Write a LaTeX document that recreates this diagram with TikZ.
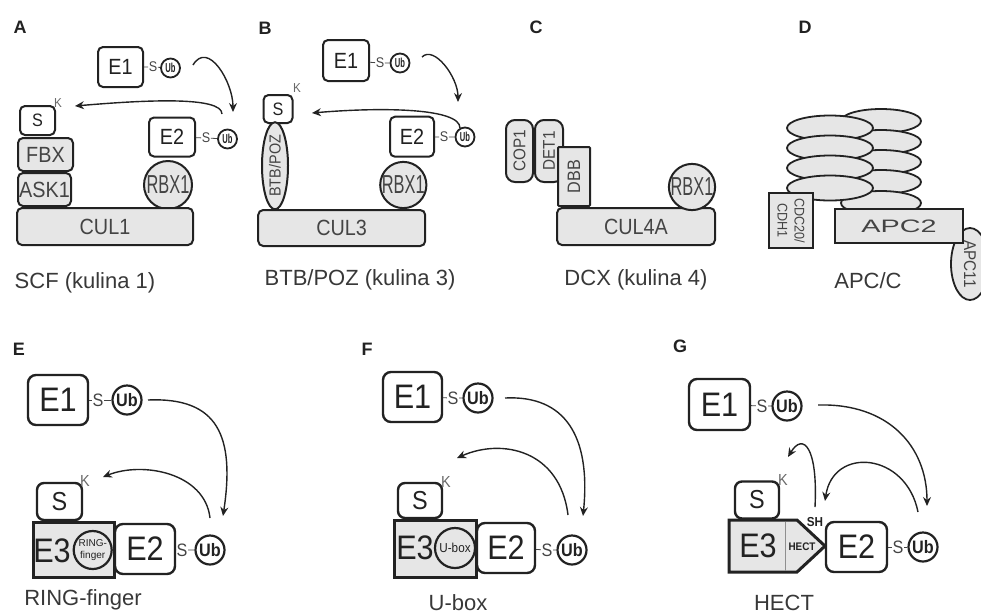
\documentclass[tikz,border=0pt]{standalone}
\usepackage{fontspec}
\setmainfont{Liberation Sans}
\setsansfont{Liberation Sans}
\newfontfamily\narrowsf[FakeStretch=0.9]{Liberation Sans}
\usetikzlibrary{arrows.meta,positioning,shapes.geometric}

\definecolor{ink}{HTML}{222222}
\definecolor{protgray}{HTML}{E6E6E6}
\definecolor{labgray}{HTML}{444444}
\newcommand{\fsz}[2]{\fontsize{#1}{#2}\selectfont}

\begin{document}
\begin{tikzpicture}[x=1pt,y=1pt,
  box/.style={draw=ink, line width=2pt, rounded corners=5pt, fill=white,
    inner sep=0pt, text=ink, font=\narrowsf\fsz{22}{24}},
  gbox/.style={box, fill=protgray, text=labgray, font=\narrowsf\fsz{22}{24}},
  bigbox/.style={box, line width=2.4pt, rounded corners=8pt, font=\narrowsf\fsz{34}{38}},
  sbig/.style={box, line width=2.4pt, rounded corners=7pt, font=\narrowsf\fsz{26}{26}},
  e3box/.style={draw=ink, line width=3pt, fill=protgray, inner sep=0pt},
  e3txt/.style={text=ink, inner sep=0pt, font=\narrowsf\fsz{34}{34}},
  dom/.style={circle, draw=ink, line width=2.2pt, fill=protgray, inner sep=0pt,
    text=ink, align=center},
  ubsm/.style={circle, draw=ink, line width=1.8pt, fill=white, minimum size=19pt,
    inner sep=0pt, text=ink, font=\narrowsf\bfseries\fsz{13}{13}},
  ubbig/.style={ubsm, line width=2.2pt, minimum size=29pt,
    font=\narrowsf\bfseries\fsz{18}{18}},
  stxt/.style={inner sep=0.5pt, text=labgray, font=\narrowsf\fsz{14}{14}},
  stxtbig/.style={stxt, font=\narrowsf\fsz{18}{18}},
  ktxt/.style={inner sep=0pt, text=labgray!80, font=\narrowsf\fsz{13}{13}},
  kbig/.style={ktxt, font=\narrowsf\fsz{16}{16}},
  lettr/.style={inner sep=0pt, text=ink, font=\bfseries\fsz{18}{18}},
  captn/.style={inner sep=0pt, text=ink!90, font=\fsz{22}{22}},
  link/.style={draw=labgray, line width=0.8pt},
  arr/.style={-{Stealth[length=9pt,width=8pt,inset=3pt]}, line width=1.4pt, draw=ink},
  apcell/.style={ellipse, draw=ink, line width=1.8pt, fill=protgray, inner sep=0pt}
]
\useasboundingbox (0,0) rectangle (981,-614);

% A: SCF
\node[lettr] (labA) at (20,-27) {A};
\node[box, minimum width=45pt, minimum height=40pt] (e1A) at (120.5,-67) {E1};
\node[stxt] (sA1) at (153,-67) {S};
\node[ubsm] (ubA1) at (170.5,-68) {\scalebox{0.65}[1]{Ub}};
\node[box, minimum width=46pt, minimum height=39pt] (e2A) at (172,-137) {E2};
\node[stxt] (sA2) at (206,-138) {S};
\node[ubsm] (ubA2) at (227.5,-139) {\scalebox{0.65}[1]{Ub}};
\node[gbox, circle, minimum size=48pt, font=\narrowsf\fsz{26}{26}] (rbxA) at (168,-185) {\scalebox{0.7}[1]{RBX1}};
\node[box, minimum width=35pt, minimum height=29pt, font=\narrowsf\fsz{18}{18}] (subA) at (37.5,-120.5) {S};
\node[ktxt] (kA) at (58,-103) {K};
\node[gbox, minimum width=55pt, minimum height=33pt] (fbx) at (45.5,-154.5) {FBX};
\node[gbox, minimum width=53pt, minimum height=33pt] (ask) at (44.5,-189.5) {ASK1};
\node[gbox, minimum width=176pt, minimum height=37pt] (cul1) at (105,-226.5) {CUL1};
\node[captn] (capA) at (85,-283) {SCF (kulina 1)};
\draw[link] (e1A) -- (sA1) -- (ubA1);
\draw[link] (e2A) -- (sA2) -- (ubA2);
\coordinate (arA1s) at (193,-65);
\coordinate (arA1e) at (233,-112);
\coordinate (arA2s) at (222,-114);
\coordinate (arA2e) at (75,-106);
\draw[arr] (arA1s) .. controls (208,-40) and (233,-82) .. (arA1e);
\draw[arr] (arA2s) .. controls (222,-96) and (145,-100) .. (arA2e);

% B: BTB/POZ
\node[lettr] (labB) at (265,-28) {B};
\node[box, minimum width=46pt, minimum height=41pt] (e1B) at (346,-60.5) {E1};
\node[stxt] (sB1) at (380,-63) {S};
\node[ubsm] (ubB1) at (400,-63) {\scalebox{0.65}[1]{Ub}};
\node[box, minimum width=44pt, minimum height=40pt] (e2B) at (412,-136.7) {E2};
\node[stxt] (sB2) at (444,-137) {S};
\node[ubsm] (ubB2) at (465,-137) {\scalebox{0.65}[1]{Ub}};
\node[gbox, circle, minimum size=46pt, font=\narrowsf\fsz{26}{26}] (rbxB) at (403.3,-185) {\scalebox{0.7}[1]{RBX1}};
\node[box, minimum width=29pt, minimum height=28pt, font=\narrowsf\fsz{18}{18}] (subB) at (278,-109) {S};
\node[ktxt] (kB) at (297,-88) {K};
\node[gbox, ellipse, rotate=90, minimum width=85pt, minimum height=26pt, font=\narrowsf\fsz{16}{16}] (btb) at (275,-165.8) {BTB/POZ};
\node[gbox, minimum width=167pt, minimum height=36pt] (cul3) at (341.7,-228) {CUL3};
\node[captn] (capB) at (360,-280) {BTB/POZ (kulina 3)};
\draw[link] (e1B) -- (sB1) -- (ubB1);
\draw[link] (e2B) -- (sB2) -- (ubB2);
\coordinate (arB1s) at (422,-57);
\coordinate (arB1e) at (458,-102);
\coordinate (arB2s) at (460,-128);
\coordinate (arB2e) at (312,-113);
\draw[arr] (arB1s) .. controls (434,-45) and (458,-77) .. (arB1e);
\draw[arr] (arB2s) .. controls (460,-108) and (382,-107) .. (arB2e);

% C: DCX
\node[lettr] (labC) at (536,-27) {C};
\node[gbox, rotate=90, minimum width=62pt, minimum height=27pt, rounded corners=9pt, font=\narrowsf\fsz{17}{17}] (cop) at (519.5,-151) {COP1};
\node[gbox, rotate=90, minimum width=62pt, minimum height=28pt, rounded corners=9pt, font=\narrowsf\fsz{17}{17}] (det) at (549,-151) {DET1};
\node[gbox, rotate=90, minimum width=59pt, minimum height=32pt, rounded corners=1pt, font=\narrowsf\fsz{18}{18}] (dbb) at (574,-176.5) {DBB};
\node[gbox, minimum width=158pt, minimum height=37pt] (cul4) at (636,-226.5) {CUL4A};
\node[gbox, circle, minimum size=46pt, font=\narrowsf\fsz{26}{26}] (rbxC) at (692,-187) {\scalebox{0.7}[1]{RBX1}};
\node[captn] (capC) at (636,-280) {DCX (kulina 4)};

% D: APC/C
\node[lettr] (labD) at (805,-27) {D};
\foreach \yy [count=\i] in {121,142,162,182,203}
  \node[apcell, minimum width=80pt, minimum height=24pt] (apcR\i) at (881,-\yy) {};
\foreach \yy [count=\i] in {128,148,168,188}
  \node[apcell, minimum width=86pt, minimum height=25pt] (apcL\i) at (830,-\yy) {};
\node[apcell, rotate=-90, minimum width=72pt, minimum height=38pt, text=labgray, font=\narrowsf\fsz{17}{17}] (apc11) at (970,-264) {APC11};
\node[gbox, rounded corners=0pt, minimum width=128pt, minimum height=34pt, font=\fsz{18}{18}] (apc2) at (899,-226) {\scalebox{1.6}[1]{APC2}};
\node[gbox, rounded corners=0pt, rotate=-90, minimum width=55pt, minimum height=44pt, align=center, font=\narrowsf\fsz{14}{17}] (cdc) at (791,-220.5) {CDC20/\\CDH1};
\node[captn] (capD) at (868,-281) {APC/C};

% E: RING-finger
\node[lettr] (labE) at (19,-349) {E};
\node[bigbox, minimum width=60pt, minimum height=50pt] (e1E) at (58,-400) {E1};
\node[stxtbig] (sE1) at (98,-400) {S};
\node[ubbig] (ubE1) at (127,-400) {Ub};
\node[sbig, minimum width=45pt, minimum height=37pt] (subE) at (59.5,-501.5) {S};
\node[kbig] (kE) at (85,-481) {K};
\node[e3box, minimum width=81pt, minimum height=55pt] (e3E) at (73.5,-549.5) {};
\node[e3txt] (e3tE) at (52,-551) {E3};
\node[dom, minimum size=38pt, font=\fsz{10}{12}] (ringE) at (92.7,-550) {RING-\\finger};
\node[bigbox, minimum width=60pt, minimum height=50pt] (e2E) at (145,-549) {E2};
\node[stxtbig] (sE2) at (182,-550) {S};
\node[ubbig] (ubE2) at (210,-550) {Ub};
\node[captn] (capE) at (83,-600) {RING-finger};
\draw[link] (e1E) -- (sE1) -- (ubE1);
\draw[link] (e2E) -- (sE2) -- (ubE2);
\coordinate (arE1s) at (148,-400);
\coordinate (arE1e) at (223,-516);
\coordinate (arE2s) at (210,-518);
\coordinate (arE2e) at (103,-477);
\draw[arr] (arE1s) .. controls (218,-397) and (235,-436) .. (arE1e);
\draw[arr] (arE2s) .. controls (205,-473) and (143,-461) .. (arE2e);

% F: U-box
\node[lettr] (labF) at (367,-349) {F};
\node[bigbox, minimum width=59pt, minimum height=50pt] (e1F) at (412.5,-397) {E1};
\node[stxtbig] (sF1) at (453,-398) {S};
\node[ubbig] (ubF1) at (478,-398) {Ub};
\node[sbig, minimum width=44pt, minimum height=35pt] (subF) at (420,-500.5) {S};
\node[kbig] (kF) at (446,-482) {K};
\node[e3box, minimum width=82pt, minimum height=57pt] (e3F) at (435,-548.5) {};
\node[e3txt] (e3tF) at (415,-548) {E3};
\node[dom, minimum size=40pt, font=\narrowsf\fsz{13}{13}] (uboxF) at (455,-548) {U-box};
\node[bigbox, minimum width=58pt, minimum height=50pt] (e2F) at (506,-548) {E2};
\node[stxtbig] (sF2) at (547,-550) {S};
\node[ubbig] (ubF2) at (572,-550) {Ub};
\node[captn] (capF) at (458,-603) {U-box};
\draw[link] (e1F) -- (sF1) -- (ubF1);
\draw[link] (e2F) -- (sF2) -- (ubF2);
\coordinate (arF1s) at (505,-398);
\coordinate (arF1e) at (583,-516);
\coordinate (arF2s) at (568,-515);
\coordinate (arF2e) at (457,-458);
\draw[arr] (arF1s) .. controls (565,-395) and (591,-436) .. (arF1e);
\draw[arr] (arF2s) .. controls (560,-450) and (502,-438) .. (arF2e);

% G: HECT
\node[lettr] (labG) at (680,-346) {G};
\node[bigbox, minimum width=61pt, minimum height=51pt] (e1G) at (719.5,-404.5) {E1};
\node[stxtbig] (sG1) at (762,-406) {S};
\node[ubbig] (ubG1) at (787,-406) {Ub};
\node[sbig, minimum width=44pt, minimum height=37pt] (subG) at (757,-500) {S};
\node[kbig] (kG) at (783,-480) {K};
\draw[e3box] (729,-520) -- (797,-520) -- (825,-546) -- (797,-572) -- (729,-572) -- cycle;
\draw[draw=labgray!60, line width=0.6pt] (785,-521.5) -- (785,-570.5);
\node[e3txt] (e3tG) at (758,-546) {E3};
\node[inner sep=0pt, text=ink, font=\narrowsf\bfseries\fsz{11}{11}] (hect) at (802,-547) {HECT};
\node[inner sep=0pt, text=ink, font=\narrowsf\bfseries\fsz{13}{13}] (shG) at (815,-522) {SH};
\node[bigbox, minimum width=61pt, minimum height=50pt] (e2G) at (856.5,-547) {E2};
\node[stxtbig] (sG2) at (898,-547) {S};
\node[ubbig] (ubG2) at (923,-547) {Ub};
\node[captn] (capG) at (784,-603) {HECT};
\draw[link] (e1G) -- (sG1) -- (ubG1);
\draw[link] (e2G) -- (sG2) -- (ubG2);
\coordinate (arG1s) at (818,-405);
\coordinate (arG1e) at (927,-506);
\coordinate (arG2s) at (918,-512);
\coordinate (arG2e) at (825,-501);
\coordinate (arG3s) at (815,-507);
\coordinate (arG3e) at (788,-457);
\draw[arr] (arG1s) .. controls (888,-403) and (927,-446) .. (arG1e);
\draw[arr] (arG2s) .. controls (906,-452) and (833,-446) .. (arG2e);
\draw[arr] (arG3s) .. controls (818,-447) and (803,-432) .. (arG3e);
\end{tikzpicture}
\end{document}
